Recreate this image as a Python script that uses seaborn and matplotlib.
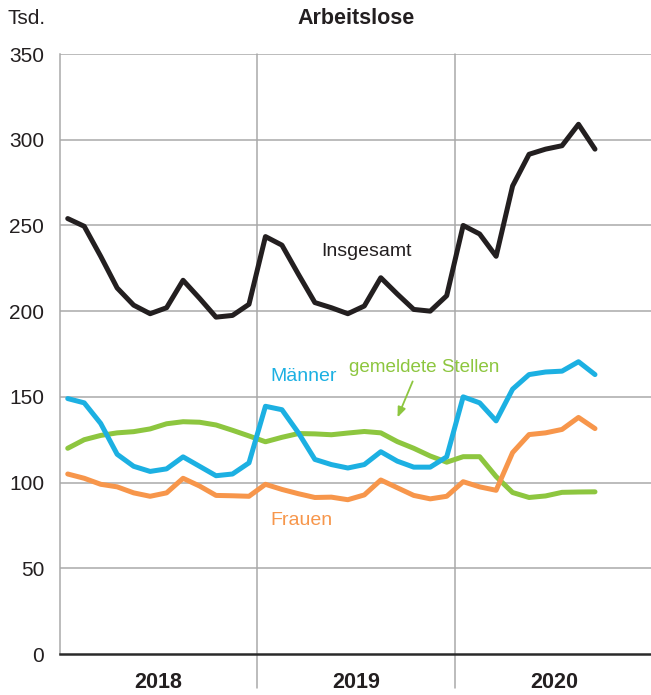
import numpy as np
import pandas as pd
import matplotlib
matplotlib.use("Agg")
import matplotlib.pyplot as plt
import seaborn as sns

# Monthly figures Jan 2018 - Sep 2020, in thousands
insgesamt = [254, 249.5, 232, 213.5, 203.5, 198.5, 202, 218, 207.5, 196.5, 197.5, 204,
             243.5, 238.5, 221.5, 205, 202, 198.5, 203, 219.5, 210, 201, 200, 209,
             250, 245, 232, 273, 291.5, 294.5, 296.5, 309, 294.5]
maenner = [149, 146.5, 134.5, 116.5, 109.5, 106.5, 108, 115, 109.5, 104, 105, 111.5,
           144.5, 142.5, 129, 113.5, 110.5, 108.5, 110.5, 118, 112.5, 109, 109, 115,
           150, 146.5, 136, 154.5, 163, 164.5, 165, 170.5, 163]
frauen = [105, 102.5, 99, 97.5, 94, 92, 94, 102.5, 98, 92.5, 92.3, 92,
          99, 96, 93.5, 91.3, 91.5, 90, 92.8, 101.5, 97, 92.5, 90.5, 92,
          100.5, 97.5, 95.5, 117.5, 128, 129, 131, 138, 131.5]
stellen = [120, 125, 127.5, 129, 129.7, 131.3, 134.3, 135.5, 135.2, 133.6, 130.5, 127.2,
           123.8, 126.4, 128.6, 128.4, 127.9, 128.9, 129.8, 129, 123.9, 120, 115.5, 111.9,
           115.1, 115.1, 103.5, 94.2, 91.3, 92.2, 94.3, 94.5, 94.6]
years = ["2018", "2019", "2020"]

series_names = ["Insgesamt", "Männer", "Frauen", "gemeldete Stellen"]
colors = {"Insgesamt": "#231f20", "Männer": "#1cb0e2",
          "Frauen": "#f7964b", "gemeldete Stellen": "#8dc63f"}

n = len(insgesamt)
month_pos = np.arange(n) + 0.5
df = pd.concat([
    pd.DataFrame({"x": month_pos, "value": vals, "series": name})
    for name, vals in zip(series_names, [insgesamt, maenner, frauen, stellen])
], ignore_index=True)

sns.set_theme(style="white")
plt.rcParams["font.family"] = ["Liberation Sans", "DejaVu Sans"]

W, H = 651, 695
fig = plt.figure(figsize=(W / 100, H / 100), dpi=100)
left_px, top_px, bottom_px = 59.5, 54, 654
ax = fig.add_axes([left_px / W, 1 - bottom_px / H, (W - left_px) / W, (bottom_px - top_px) / H])

grid_col = "#a9a9a9"
for yv in range(50, 351, 50):
    ax.axhline(yv, color=grid_col, lw=1.1, zorder=0)
for xv in (12, 24):
    ax.axvline(xv, ymin=-0.057, ymax=1, color=grid_col, lw=1.1, zorder=0, clip_on=False)

draw_order = ["gemeldete Stellen", "Frauen", "Männer", "Insgesamt"]
for name in draw_order:
    sns.lineplot(data=df[df["series"] == name], x="x", y="value", color=colors[name],
                 lw=3.6, ax=ax, legend=False, zorder=3)

ax.set_xlim(0, 35.9)
ax.set_ylim(0, 350)
ax.set_xlabel("")
ax.set_ylabel("")

ax.set_yticks(range(0, 351, 50))
ax.tick_params(axis="y", length=0, pad=11, labelsize=15, labelcolor="#231f20")
ax.set_xticks(range(1, 36))
ax.set_xticklabels([])
ax.tick_params(axis="x", direction="in", length=5, width=1.0, color=grid_col, pad=0)

for side in ("top", "right"):
    ax.spines[side].set_visible(False)
ax.spines["left"].set_color(grid_col)
ax.spines["left"].set_linewidth(1.1)
ax.spines["bottom"].set_color("#2a2a2a")
ax.spines["bottom"].set_linewidth(1.8)
ax.spines["bottom"].set_zorder(4)

for i, yr in enumerate(years):
    ax.text(6 + 12 * i, -0.048, yr, transform=ax.get_xaxis_transform(),
            ha="center", va="center", fontsize=15.5, fontweight="bold", color="#231f20")

fig.text(8 / W, 1 - 19 / H, "Tsd.", ha="left", va="center", fontsize=15, color="#231f20")
fig.text(356 / W, 1 - 19 / H, "Arbeitslose", ha="center", va="center",
         fontsize=15.5, fontweight="bold", color="#231f20")

ax.text(15.9, 235, "Insgesamt", fontsize=14, color=colors["Insgesamt"], ha="left", va="center")
ax.text(12.8, 162, "Männer", fontsize=14, color=colors["Männer"], ha="left", va="center")
ax.text(17.6, 167, "gemeldete Stellen", fontsize=13.6, color=colors["gemeldete Stellen"],
        ha="left", va="center")
ax.text(12.8, 78, "Frauen", fontsize=14, color=colors["Frauen"], ha="left", va="center")
ax.annotate("", xy=(20.45, 136.5), xytext=(21.5, 160.5),
            arrowprops=dict(arrowstyle="-|>,head_length=0.5,head_width=0.2",
                            color=colors["gemeldete Stellen"], lw=1.3))

fig.savefig("out.png", dpi=100)
